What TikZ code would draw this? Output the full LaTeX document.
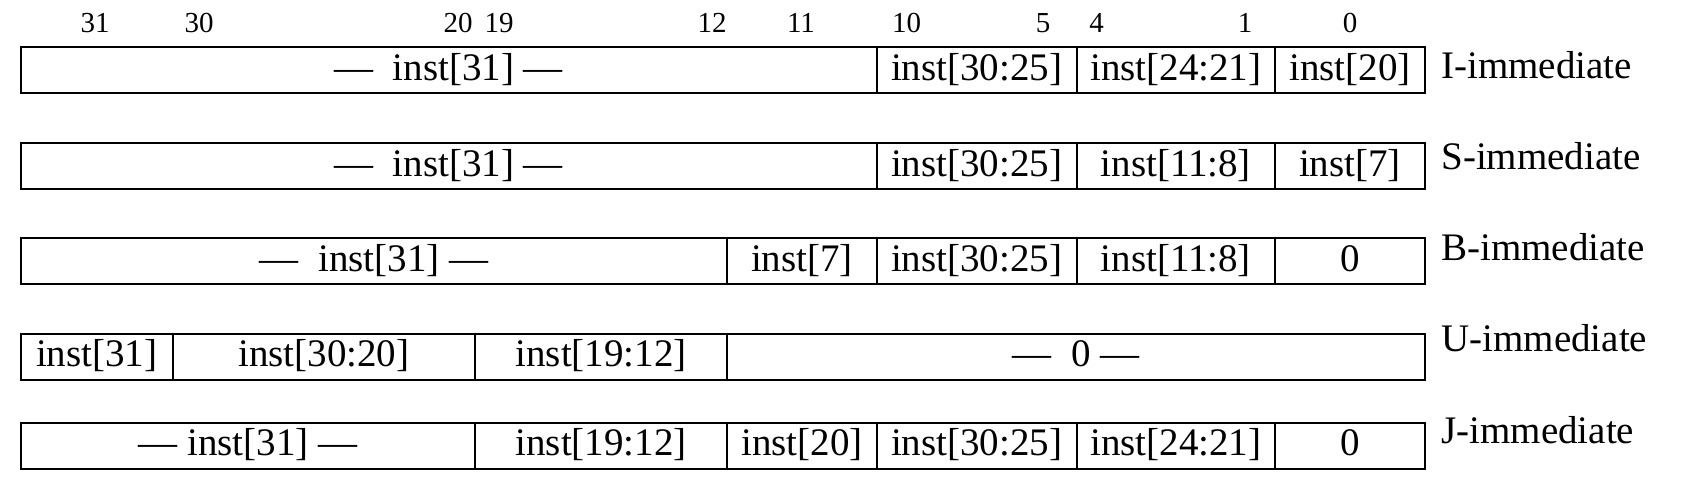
\documentclass[tikz,border=0pt]{standalone}
\usepackage{fontspec}
\setmainfont{Liberation Serif}
\newcommand\cellbox[5]{\node[cell, minimum width={(#3-#2)*0.5pt}] (#1) at ({(#2+#3)/2},#4) {#5};}
\begin{document}
\begin{tikzpicture}[x=0.5pt,y=-0.5pt,
  cell/.style={draw, line width=1pt, minimum height=23pt, inner sep=0pt,
    text height=13.4pt, text depth=3.2pt, font=\fontsize{19.5pt}{23pt}\selectfont},
  bitnum/.style={font=\fontsize{14.5pt}{17pt}\selectfont, anchor=base, inner sep=0pt},
  rowlabel/.style={font=\fontsize{19.5pt}{23pt}\selectfont, anchor=base west, inner sep=0pt}]
\useasboundingbox (0,0) rectangle (1686,500);
% bit numbers
\node[bitnum] (b31) at (95,32.3) {31};
\node[bitnum] (b30) at (199,32.3) {30};
\node[bitnum] (b20) at (458,32.3) {20};
\node[bitnum] (b19) at (499,32.3) {19};
\node[bitnum] (b12) at (712,32.3) {12};
\node[bitnum] (b11) at (801,32.3) {11};
\node[bitnum] (b10) at (906.7,32.3) {10};
\node[bitnum] (b5) at (1043,32.3) {5};
\node[bitnum] (b4) at (1096.7,32.3) {4};
\node[bitnum] (b1) at (1245,32.3) {1};
\node[bitnum] (b0) at (1350,32.3) {0};
% I-immediate
\cellbox{ia}{20.7}{876.7}{70}{—\ \ inst[31]\ —}
\cellbox{ib}{876.7}{1076.7}{70}{inst[30:25]}
\cellbox{ic}{1076.7}{1275}{70}{inst[24:21]}
\cellbox{id}{1275}{1425}{70}{inst[20]}
\node[rowlabel] (il) at (1441,78) {I-immediate};
% S-immediate
\cellbox{sa}{20.7}{876.7}{166.2}{—\ \ inst[31]\ —}
\cellbox{sb}{876.7}{1076.7}{166.2}{inst[30:25]}
\cellbox{sc}{1076.7}{1275}{166.2}{inst[11:8]}
\cellbox{sd}{1275}{1425}{166.2}{inst[7]}
\node[rowlabel] (sl) at (1441,169) {S-immediate};
% B-immediate
\cellbox{ba}{20.7}{727.3}{260.8}{—\ \ inst[31]\ —}
\cellbox{bb}{727.3}{876.7}{260.8}{inst[7]}
\cellbox{bc}{876.7}{1076.7}{260.8}{inst[30:25]}
\cellbox{bd}{1076.7}{1275}{260.8}{inst[11:8]}
\cellbox{be}{1275}{1425}{260.8}{0}
\node[rowlabel] (bl) at (1441,260) {B-immediate};
% U-immediate
\cellbox{ua}{20.7}{172.7}{356.7}{inst[31]}
\cellbox{ub}{172.7}{475}{356.7}{inst[30:20]}
\cellbox{uc}{475}{727.3}{356.7}{inst[19:12]}
\cellbox{ud}{727.3}{1425}{356.7}{—\ \ 0\ —}
\node[rowlabel] (ul) at (1441,351) {U-immediate};
% J-immediate
\cellbox{ja}{20.7}{475}{445.7}{—\ inst[31]\ —}
\cellbox{jb}{475}{727.3}{445.7}{inst[19:12]}
\cellbox{jc}{727.3}{876.7}{445.7}{inst[20]}
\cellbox{jd}{876.7}{1076.7}{445.7}{inst[30:25]}
\cellbox{je}{1076.7}{1275}{445.7}{inst[24:21]}
\cellbox{jf}{1275}{1425}{445.7}{0}
\node[rowlabel] (jl) at (1441,443) {J-immediate};
\end{tikzpicture}
\end{document}
